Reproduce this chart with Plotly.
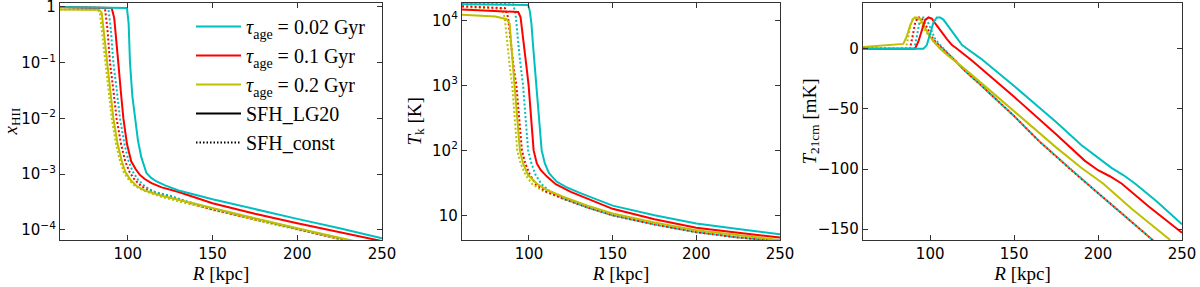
import plotly.graph_objects as go

# ---------------- data ----------------
# Panel 1: ionised fraction x_HII (solid = SFH_LG20, dotted = SFH_const)
r_x_c_s = [60, 99.5, 100.5, 101.3, 102.7, 104.2, 106, 108, 111, 114, 117, 122, 130, 150, 175, 200, 225, 250]
x_c_s = [1.0, 0.955, 0.5, 0.1, 0.025, 0.01, 0.004, 0.002, 0.00105, 0.00085, 0.00074, 0.00063, 0.00051, 0.000355, 0.000234, 0.000158, 0.000107, 0.0000708]
r_x_r_s = [60, 90.5, 92, 93, 94.4, 96, 97.4, 99.5, 102, 104.5, 107, 110, 114, 120, 130, 150, 175, 200, 225, 250]
x_r_s = [1.0, 0.955, 0.63, 0.32, 0.1, 0.028, 0.01, 0.0035, 0.0017, 0.00125, 0.00098, 0.00082, 0.00069, 0.00058, 0.00048, 0.000302, 0.000195, 0.000132, 0.0000912, 0.0000631]
r_x_y_s = [60, 83, 84.6, 86, 87.5, 89.5, 91.5, 94, 96.5, 98.5, 101.5, 105, 110, 120, 135, 150, 175, 200, 225, 250]
x_y_s = [0.9, 0.89, 0.79, 0.32, 0.1, 0.032, 0.01, 0.0035, 0.0017, 0.0011, 0.0008, 0.00062, 0.00051, 0.00041, 0.000316, 0.000245, 0.000162, 0.000107, 0.0000724, 0.000049]
r_x_y_d = [60, 82, 83.5, 85, 86.5, 88.5, 90.5, 93, 95.5, 97.5, 100.5, 104, 110, 120, 135, 150, 175, 200, 225, 250]
x_y_d = [0.9, 0.89, 0.79, 0.32, 0.1, 0.032, 0.01, 0.0035, 0.0017, 0.0011, 0.0008, 0.00062, 0.0005, 0.00039, 0.000295, 0.000229, 0.000151, 0.0001, 0.0000676, 0.0000457]
r_x_r_d = [60, 86.5, 88, 89.5, 91.5, 93.4, 96, 98.5, 101, 104, 108, 115, 125, 135, 150, 175, 200, 225, 250]
x_r_d = [1.0, 0.955, 0.4, 0.1, 0.032, 0.01, 0.0035, 0.0017, 0.0011, 0.0008, 0.00061, 0.00048, 0.0004, 0.000316, 0.000234, 0.000155, 0.000102, 0.0000692, 0.0000468]
r_x_c_d = [60, 88.5, 90, 91.5, 93.5, 95.4, 98, 100.5, 103, 106, 110, 115, 125, 135, 150, 175, 200, 225, 250]
x_c_d = [1.0, 0.955, 0.4, 0.1, 0.032, 0.01, 0.0035, 0.0017, 0.0011, 0.0008, 0.00061, 0.00049, 0.00041, 0.000324, 0.00024, 0.000158, 0.000105, 0.0000708, 0.0000479]

# Panel 2: kinetic temperature T_k [K]
r_t_c_s = [60, 99.5, 100.5, 101.5, 102.5, 103.5, 104.6, 106, 107.6, 109.5, 112, 116.5, 122, 130, 150, 175, 200, 225, 250]
t_c_s = [17800, 17400, 14100, 8900, 4000, 2000, 1000, 316, 100, 63, 44.7, 33.1, 27.5, 22.4, 14.1, 10.0, 7.5, 6.17, 5.13]
r_t_r_s = [60, 93.6, 95, 96.3, 97.5, 98.7, 99.8, 101.2, 102.8, 104.7, 107, 110.6, 116, 125, 150, 175, 200, 225, 250]
t_r_s = [14800, 13500, 11200, 6300, 3160, 1780, 1000, 316, 100, 63, 50, 39.8, 30.2, 22.9, 12.6, 8.7, 6.46, 5.37, 4.57]
r_t_y_s = [60, 80, 86.7, 88.5, 89.5, 90.5, 91.6, 93, 94.6, 96.5, 99.5, 104.6, 110, 120, 135, 150, 175, 200, 225, 250]
t_y_s = [12300, 11500, 10500, 8900, 3980, 2000, 1000, 316, 100, 63, 41.7, 30.9, 25.1, 19.5, 14.1, 10.7, 7.76, 5.89, 4.9, 4.17]
r_t_y_d = [60, 83.7, 85.5, 86.5, 87.5, 88.7, 90, 91.5, 93, 95, 98, 102, 108, 120, 135, 150, 175, 200, 225, 250]
t_y_d = [16200, 15100, 11200, 6300, 3160, 1780, 1000, 316, 100, 63, 41.7, 30.2, 24.0, 18.2, 13.2, 10.0, 7.24, 5.5, 4.57, 3.98]
r_t_r_d = [60, 85.7, 87.5, 88.5, 89.7, 91, 92.5, 94, 95.8, 97.8, 100.5, 104, 110, 120, 135, 150, 175, 200, 225, 250]
t_r_d = [16600, 15500, 11200, 6300, 3160, 1780, 1000, 316, 100, 63, 42.7, 30.2, 23.4, 18.2, 13.2, 10.0, 7.24, 5.5, 4.57, 3.98]
r_t_c_d = [60, 90.6, 92, 93, 94.2, 95.3, 96.5, 98, 99.5, 101.5, 104, 107.5, 112, 120, 135, 150, 175, 200, 225, 250]
t_c_d = [18600, 17800, 12600, 6300, 3160, 1780, 1000, 316, 100, 63, 41.7, 30.2, 24.0, 18.6, 13.2, 10.0, 7.24, 5.5, 4.57, 3.98]

# Panel 3: 21-cm brightness temperature [mK]
r_b_c_s = [60, 96, 98, 100, 102, 104, 106, 108, 110, 113, 116, 119, 122, 130, 150, 175, 190, 200, 208, 215, 222, 235, 250]
b_c_s = [0, 0, 3, 13, 22, 26, 26, 24, 20, 14, 8, 3, 0, -8, -31, -61, -80, -91, -99, -105, -112, -127, -146]
r_b_r_s = [60, 91, 93, 95, 97, 99, 101, 103, 106, 110, 113, 116, 125, 150, 175, 192, 200, 207, 214, 230, 250]
b_r_s = [0, 0, 6, 16, 24, 26, 25, 21, 15, 8, 3, 0, -10, -40, -71, -93, -101, -106, -112, -131, -153]
r_b_y_s = [60, 84, 86, 88, 90, 92, 94, 96, 99, 102, 106, 110, 115, 120, 135, 150, 175, 190, 197, 203, 220, 243]
b_y_s = [1.5, 4, 10, 19, 25, 26, 25, 20, 12, 6, 0, -5, -10.5, -16, -34, -52, -82, -99, -106, -112, -133, -159]
r_b_y_d = [60, 85.5, 87, 88.5, 90, 92, 94, 96, 98, 100, 103, 106, 110, 115, 120, 130, 150, 165, 185, 200, 215, 233, 250]
b_y_d = [0, 0, 10, 21, 26, 26, 22, 17, 13, 10, 5, 2, -3, -10, -17.5, -30, -56, -77, -102, -120, -138, -159, -180]
r_b_r_d = [60, 88, 89.5, 91, 92.5, 94.5, 96.5, 98.5, 100.5, 103, 106, 110, 115, 120, 130, 150, 165, 185, 200, 215, 233, 250]
b_r_d = [0, 0, 10, 21, 26, 26, 22, 16, 11, 6, 2, -3, -10, -17.5, -30, -56, -77, -102, -120, -138, -159, -180]
r_b_c_d = [60, 90.5, 92, 93.5, 95, 97, 99, 101, 103, 106, 110, 115, 120, 130, 150, 165, 185, 200, 215, 233, 250]
b_c_d = [0, 0, 10, 21, 26, 26, 21, 14, 8, 3, -3, -10, -17.5, -30, -56, -77, -102, -120, -138, -159, -180]

legend_labels = ["<i>τ</i><sub>age</sub> = 0.02 Gyr", "<i>τ</i><sub>age</sub> = 0.1 Gyr",
                 "<i>τ</i><sub>age</sub> = 0.2 Gyr", "SFH_LG20", "SFH_const"]
y_titles = ["<i>x</i><sub>HII</sub>", "<i>T</i><sub>k</sub> [K]", "<i>T</i><sub>21cm</sub> [mK]"]
x_title = "<i>R</i> [kpc]"
x_ticks = [100, 150, 200, 250]
x_tick_text = ["100", "150", "200", "250"]
p1_ticks = [1e-4, 1e-3, 1e-2, 1e-1, 1]
p1_tick_text = ["10<sup>−4</sup>", "10<sup>−3</sup>", "10<sup>−2</sup>", "10<sup>−1</sup>", "1"]
p2_ticks = [10, 100, 1000, 10000]
p2_tick_text = ["10", "10<sup>2</sup>", "10<sup>3</sup>", "10<sup>4</sup>"]
p3_ticks = [-150, -100, -50, 0]
p3_tick_text = ["−150", "−100", "−50", "0"]

# ---------------- styling ----------------
CYAN, RED, OLIVE = "#00BFBF", "#FF0000", "#BFBF00"
LW = 2
DOT = "2px,2.2px"
W, H = 1200, 287

fig = go.Figure()

panels = [
    ("x", "y", [(r_x_y_d, x_y_d, OLIVE, DOT), (r_x_r_d, x_r_d, RED, DOT), (r_x_c_d, x_c_d, CYAN, DOT),
                (r_x_y_s, x_y_s, OLIVE, None), (r_x_r_s, x_r_s, RED, None), (r_x_c_s, x_c_s, CYAN, None)]),
    ("x2", "y2", [(r_t_y_d, t_y_d, OLIVE, DOT), (r_t_r_d, t_r_d, RED, DOT), (r_t_c_d, t_c_d, CYAN, DOT),
                  (r_t_y_s, t_y_s, OLIVE, None), (r_t_r_s, t_r_s, RED, None), (r_t_c_s, t_c_s, CYAN, None)]),
    ("x3", "y3", [(r_b_y_d, b_y_d, OLIVE, DOT), (r_b_r_d, b_r_d, RED, DOT), (r_b_c_d, b_c_d, CYAN, DOT),
                  (r_b_y_s, b_y_s, OLIVE, None), (r_b_r_s, b_r_s, RED, None), (r_b_c_s, b_c_s, CYAN, None)]),
]
for xa, ya, curves in panels:
    for rr, vv, col, dash in curves:
        fig.add_trace(go.Scatter(x=rr, y=vv, xaxis=xa, yaxis=ya, mode="lines",
                                 line=dict(color=col, width=LW, dash=dash or "solid"),
                                 showlegend=False, hoverinfo="skip"))

# legend entries
leg_styles = [(CYAN, "solid"), (RED, "solid"), (OLIVE, "solid"), ("black", "solid"), ("black", "1.5px,2px")]
for i, (lab, (col, dash)) in enumerate(zip(legend_labels, leg_styles)):
    fig.add_trace(go.Scatter(x=[None], y=[None], mode="lines", name=lab, legendgroup=f"g{i}",
                             line=dict(color=col, width=LW, dash=dash), xaxis="x", yaxis="y"))

# panel geometry (pixels)
top_px, bot_px = 3, 240
ydom = [1 - bot_px / H, 1 - top_px / H]
xdoms = [[60 / W, 382 / W], [462 / W, 780 / W], [863 / W, 1182 / W]]
ytitle_px = [12, 416, 811]

axis_common = dict(showline=True, mirror="ticks", linecolor="#333333", linewidth=1.3,
                   ticks="inside", ticklen=5, tickwidth=1, tickcolor="#333333",
                   showgrid=False, zeroline=False, automargin=False, ticklabeloverflow="allow",
                   tickfont=dict(family="DejaVu Sans", size=15, color="black"))
title_font = dict(family="Liberation Serif", size=19, color="black")

layout = dict(width=W, height=H, margin=dict(l=0, r=0, t=0, b=0),
              paper_bgcolor="white", plot_bgcolor="white", showlegend=True,
              legend=dict(x=191 / W, y=1 - 7 / H, xanchor="left", yanchor="top",
                          bgcolor="rgba(0,0,0,0)", borderwidth=0, tracegroupgap=0, itemwidth=45,
                          font=dict(family="Liberation Serif", size=20, color="black")))
for i, suf in enumerate(["", "2", "3"]):
    layout["xaxis" + suf] = dict(axis_common, domain=xdoms[i], range=[60, 250],
                                 tickvals=x_ticks, ticktext=x_tick_text,
                                 anchor="y" + suf,
                                 title=dict(text=x_title, font=title_font, standoff=2))
layout["yaxis"] = dict(axis_common, domain=ydom, type="log", range=[-4.18, 0.07],
                       tickvals=p1_ticks, ticktext=p1_tick_text, anchor="x")
layout["yaxis2"] = dict(axis_common, domain=ydom, type="log", range=[0.62, 4.27],
                        tickvals=p2_ticks, ticktext=p2_tick_text, anchor="x2")
layout["yaxis3"] = dict(axis_common, domain=ydom, range=[-159, 38],
                        tickvals=p3_ticks, ticktext=p3_tick_text, anchor="x3")
layout["annotations"] = [
    dict(text=t, x=px / W, y=(ydom[0] + ydom[1]) / 2, xref="paper", yref="paper",
         xanchor="center", yanchor="middle", textangle=-90, showarrow=False, font=title_font)
    for t, px in zip(y_titles, ytitle_px)
]
fig.update_layout(**layout)

fig.write_html("out.html", config={"displayModeBar": False},
               post_script="document.body.style.margin='0';document.body.style.overflow='hidden';")
